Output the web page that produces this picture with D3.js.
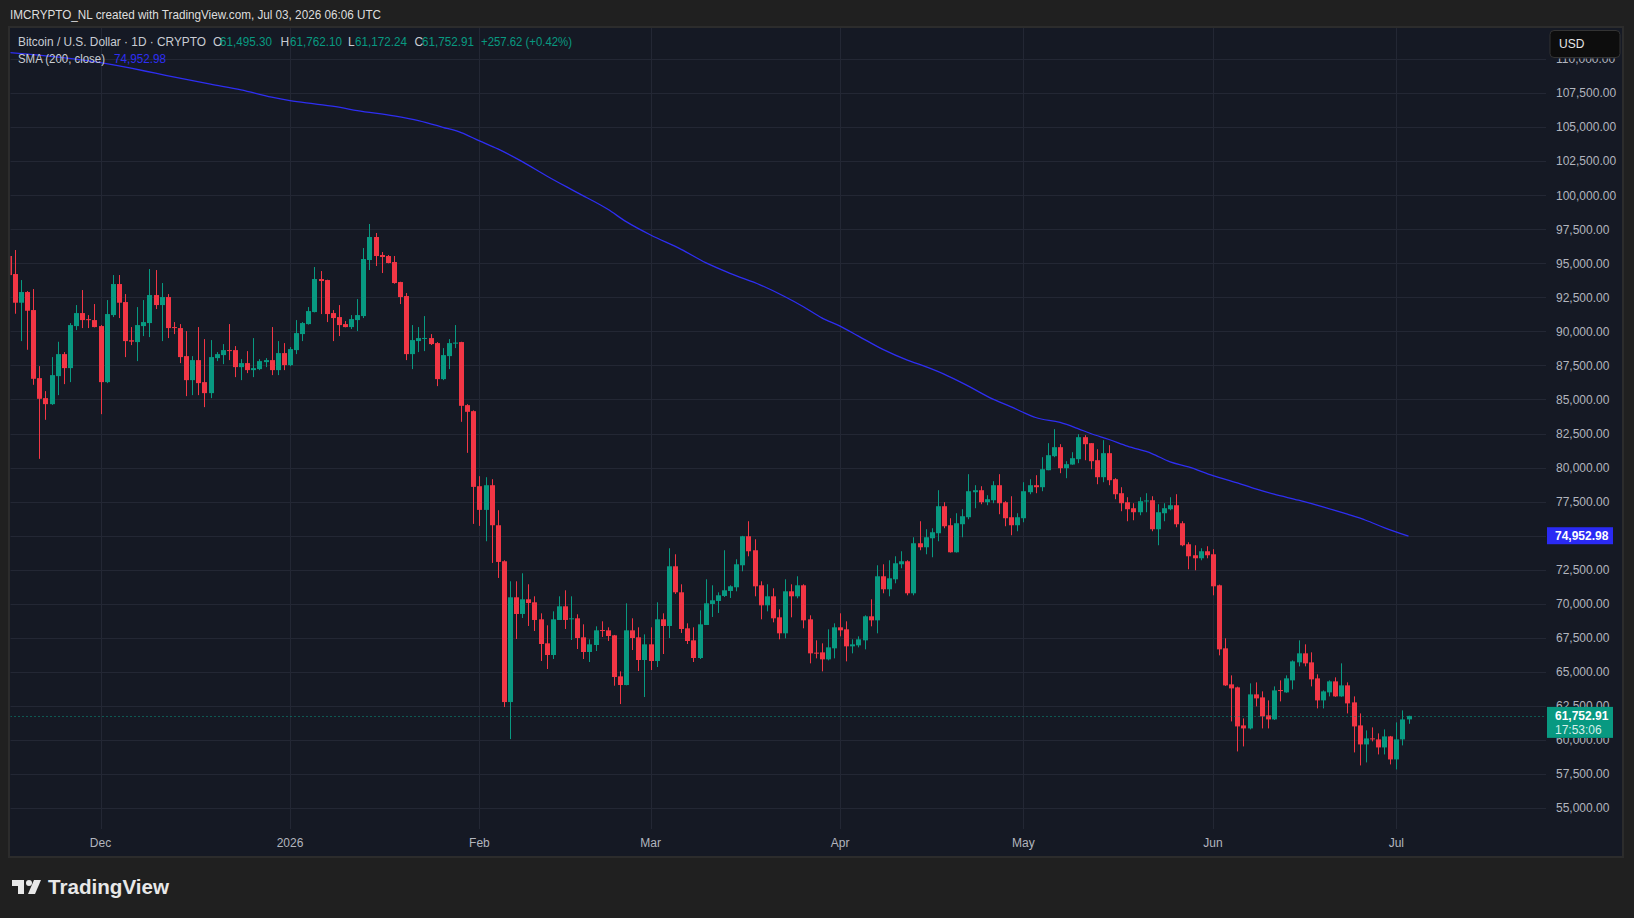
<!DOCTYPE html>
<html><head><meta charset="utf-8">
<script src="https://cdn.jsdelivr.net/npm/d3@7"></script>
<style>
html,body{margin:0;padding:0;background:#202020;}
svg{display:block;font-family:"Liberation Sans",Arial,sans-serif;}
</style></head><body>
<svg id="chart" width="1634" height="918"></svg>
<script>
// ---------------- DATA ----------------
const startDate = "2025-11-16"; // first daily candle
const opens = [95540,94216,92108,92892,91569,86568,85098,84657,86715,88333,
87304,90392,91348,90900,90833,90392,86274,91201,93480,92157,
89350,89216,90392,90613,92672,91936,92524,90319,90245,88186,
86421,87892,86274,85466,88039,88260,88627,88627,87377,87672,
87157,87230,87745,87892,87157,88407,87524,88627,89804,90539,
91422,93848,93774,91348,91054,90539,90319,90833,91127,95245,
96936,95613,95539,95098,93627,92598,88333,89290,89480,89510,
89142,86495,88186,89100,89216,84583,84142,78627,76887,78701,
75760,73113,62769,70466,69240,70319,70098,68848,67083,66225,
68799,69804,68870,68922,67524,66446,66961,68060,68039,67671,
64657,64020,68039,67524,65858,67010,65784,68848,68358,72745,
70833,68186,67304,66005,68431,69976,70196,70564,70931,71201,
72819,74951,73922,71348,69877,70539,68995,67819,70907,70539,
71348,68848,66400,66421,65907,66716,68260,68113,66863,66936,
67304,69069,68774,72010,71054,71789,72892,73113,70760,74436,
74142,74804,75172,77157,75760,73774,75833,76348,78186,78333,
77451,77598,78701,77451,76348,75760,76275,78186,78701,78554,
79804,80833,81495,79951,80221,80613,82230,81789,80539,79289,
81054,79142,78113,77451,77010,76716,77520,77598,75466,76642,
76936,77230,75907,74363,73554,73333,73848,73627,71348,66716,
64069,63848,61054,60833,63333,63112,61789,61495,63650,63480,
64363,65686,66348,65686,64510,62892,63480,64289,63186,63995,
62745,61054,59657,60100,60025,59436,60245,58554,60025,61495.30];
const highs = [95600,95980,93774,92966,93113,87451,85613,88113,89240,88480,
90613,91936,93039,91201,92010,90466,92304,94142,94142,92745,
90319,91789,92304,94583,94510,93554,92745,90686,90539,90024,
88186,90319,89436,89363,88480,89069,90539,88922,87966,88554,
89510,87966,88039,90319,89289,89142,88848,90833,90686,91789,
94730,94436,93800,91569,91936,90760,91201,92377,96127,97892,
97230,95833,95613,95539,93650,92819,90466,90319,91127,89804,
89216,88774,89436,90466,89240,84657,84200,79363,79289,79142,
76863,73186,71642,71642,72230,71421,70539,69289,68407,69436,
70539,70980,70539,69216,68480,67377,68333,68701,68260,67700,
65024,70024,68922,68260,67745,68260,70098,69289,74069,73627,
71421,68554,68260,69510,71789,71348,70833,73922,71348,73260,
74980,76054,74730,71642,71421,71127,69583,71789,71421,72010,
71421,69142,67304,67083,68113,68554,69289,68701,67377,67598,
69142,70319,72819,72892,73186,73480,73848,73186,74877,76054,
75466,75539,78333,77451,76275,76642,76936,79510,78701,78627,
77966,78995,79510,77525,77892,76642,78921,79142,79436,80760,
81789,82819,81716,80466,81127,82451,82377,81800,81348,82010,
81642,79216,78554,77819,77377,77819,78113,77892,77304,77377,
77819,78039,76054,74510,74289,74069,74216,74000,71400,67451,
64730,63900,61568,64142,64216,63554,62892,63921,64363,64730,
65833,67304,67010,66422,64804,63627,64363,64583,65613,64216,
63186,61936,60686,60907,60466,60760,60280,61274,62157,61762.10];
const lows = [93900,91299,89289,88652,86078,80637,83505,84600,85319,86127,
86274,90098,90245,90245,90300,83921,86200,91054,90980,88113,
88995,87819,89657,89583,91642,89289,89510,89804,87672,85245,
85319,85319,84436,85098,87819,87598,87892,86642,86421,86936,
86642,87157,87377,86789,86789,87157,87450,88333,89289,90500,
91400,91275,90686,89289,89657,90300,90172,90025,90980,94510,
94804,94289,95000,93500,92010,87892,87230,88480,88554,89000,
85980,86421,87230,88774,83358,81078,75858,75711,74583,72990,
71887,62402,60049,67402,68946,68358,67990,65784,65196,65931,
68799,68137,67328,66667,65931,65711,66519,67549,67255,63970,
62622,64000,66593,65049,63137,65122,65343,66299,67475,70711,
67843,67034,65711,65931,68431,69020,69314,70490,70417,70907,
72377,73480,70539,68848,69436,68627,67377,67451,68995,70392,
68186,65613,65980,65024,65833,65980,67598,65760,66348,66789,
66642,68333,67819,70760,70539,71495,72598,70613,70613,73922,
73627,73407,74583,75539,73750,73750,74877,76201,77010,77304,
77230,77377,76569,75686,75025,75319,75980,78039,78113,78260,
79800,80760,79583,79216,80200,80319,80539,79877,78774,78921,
78701,77672,76789,76054,76127,76495,76716,75319,74289,76054,
76860,75613,74216,72525,72451,73186,73333,70613,66201,63950,
61348,59142,59510,60760,62451,60833,60833,61450,62819,63450,
63701,65392,65392,63921,62304,62304,63186,63150,63150,61936,
59069,58113,58333,59878,58921,58921,58186,57819,59584,61172.24];
const closes = [94140,92108,92892,91520,86519,85049,84657,86789,88333,87304,
90466,91348,90833,90850,90319,86274,91275,93480,92108,89289,
89250,90466,90686,92672,91936,92524,90245,90245,88113,86421,
87892,86201,85466,88113,88333,88627,88554,87377,87672,87157,
87304,87819,87892,87157,88407,87524,88701,89877,90613,91495,
93848,93701,91275,90980,90466,90319,90907,91201,95319,96936,
95539,95466,95025,93554,92524,88333,89363,89510,89520,89069,
86495,88260,89142,89180,84534,84093,78578,76887,78701,75760,
73064,62769,70466,69240,70319,70049,68799,67034,66225,68848,
69804,68799,68920,67475,66446,67010,68039,68020,67622,64608,
64020,68039,67475,65858,67010,65784,68848,68358,72745,70833,
68137,67255,66005,68480,70024,70245,70613,70980,71274,72892,
74951,73848,71274,69877,70539,68922,67819,70907,70539,71348,
68774,66348,66350,65907,66789,68260,68039,66863,67010,67377,
69069,68774,72010,71054,71863,72966,73113,70760,74436,74142,
74877,75245,77157,75686,73774,75907,76422,78260,78333,77451,
77672,78701,77377,76275,75760,76348,78260,78701,78554,79877,
80907,81495,79951,80245,80686,82230,81716,80466,79289,81054,
79069,78039,77377,76936,76716,77525,77580,75466,76716,77010,
77230,75833,74289,73480,73333,73848,73554,71274,66642,63995,
63774,60980,60833,63333,63039,61716,61495,63627,63600,64510,
65760,66348,65613,64436,62892,63554,64289,63186,63995,62671,
60980,59657,60098,60050,59436,60245,58554,60025,61495,61752.91];

// SMA(200, close) read at sample dates
const smaDates = ["2025-11-16","2025-12-01","2025-12-06","2025-12-10","2025-12-19","2025-12-24","2025-12-29","2026-01-01","2026-01-05","2026-01-09",
"2026-01-12","2026-01-18","2026-01-22","2026-01-26","2026-01-29","2026-02-01","2026-02-04","2026-02-08","2026-02-12","2026-02-17",
"2026-02-22","2026-02-25","2026-03-01","2026-03-06","2026-03-10","2026-03-14","2026-03-19","2026-03-23","2026-03-26","2026-03-29",
"2026-04-01","2026-04-04","2026-04-08","2026-04-12","2026-04-14","2026-04-18","2026-04-22","2026-04-26","2026-04-29","2026-05-01",
"2026-05-03","2026-05-07","2026-05-10","2026-05-12","2026-05-15","2026-05-18","2026-05-22","2026-05-25","2026-05-28","2026-06-01",
"2026-06-05","2026-06-08","2026-06-11","2026-06-15","2026-06-19","2026-06-23","2026-06-26","2026-06-29","2026-07-03"];
const smaValues = [110490,109755,109338,108971,108162,107745,107206,106961,106716,106471,
106225,105833,105490,105000,104608,103995,103407,102475,101422,100196,
98971,98064,97083,96029,95049,94265,93407,92549,91814,91000,
90392,89657,88676,87892,87573,86863,85980,85025,84461,84044,
83676,83309,82843,82500,82059,81569,81029,80417,80049,79412,
78873,78431,78039,77598,77108,76569,76127,75588,74952.98];

const priceTicks = [55000,57500,60000,62500,65000,67500,70000,72500,75000,77500,80000,82500,85000,87500,90000,92500,95000,97500,100000,102500,105000,107500,110000];
const monthTickDates = ["2025-12-01","2026-01-01","2026-02-01","2026-03-01","2026-04-01","2026-05-01","2026-06-01","2026-07-01"];
const monthTickLabels = ["Dec","2026","Feb","Mar","Apr","May","Jun","Jul"];

const lastPrice = 61752.91;
const smaLast = 74952.98;
const countdown = "17:53:06";
const headerText = "IMCRYPTO_NL created with TradingView.com, Jul 03, 2026 06:06 UTC";
const symbolText = "Bitcoin / U.S. Dollar · 1D · CRYPTO";
const ohlcLabels = ["O","H","L","C"];
const ohlcValues = ["61,495.30","61,762.10","61,172.24","61,752.91"];
const changeText = "+257.62 (+0.42%)";
const smaLabel = "SMA (200, close)";

// ---------------- LAYOUT ----------------
const W = 1634, H = 918;
const plot = {left: 10.5, right: 1546, top: 28, bottom: 829};
const UP = "#089981", DOWN = "#f23645", SMA_C = "#2e2ef2";
const AXIS_TXT = "#b2b5be", GRID = "#232734", PANE = "#151924";

const parse = d3.utcParse("%Y-%m-%d");
const dates = d3.utcDay.range(parse(startDate), d3.utcDay.offset(parse(startDate), opens.length));
const candles = dates.map((d,i)=>({d, o:opens[i], h:highs[i], l:lows[i], c:closes[i]}));

const x = d3.scaleUtc().domain([parse("2025-12-01"), parse("2026-07-01")]).range([100.5, 1396.3]);
const y = d3.scaleLinear().domain([55000, 110000]).range([807.8, 59.2]);
const fmt = d3.format(",.2f");

const svg = d3.select("#chart");
svg.append("rect").attr("width",W).attr("height",H).attr("fill","#202020");
// pane
svg.append("rect").attr("x",9).attr("y",27).attr("width",1614).attr("height",830)
  .attr("fill",PANE).attr("stroke","#2c2c2c").attr("stroke-width",2);

// grid
const grid = svg.append("g");
grid.selectAll("line.h").data(priceTicks).join("line")
  .attr("x1",plot.left).attr("x2",plot.right)
  .attr("y1",d=>Math.round(y(d))+0.5).attr("y2",d=>Math.round(y(d))+0.5)
  .attr("stroke",GRID).attr("stroke-width",1);
grid.selectAll("line.v").data(monthTickDates.map(parse)).join("line")
  .attr("y1",plot.top).attr("y2",plot.bottom)
  .attr("x1",d=>Math.round(x(d))+0.5).attr("x2",d=>Math.round(x(d))+0.5)
  .attr("stroke",GRID).attr("stroke-width",1);

// time axis labels
svg.append("g").selectAll("text").data(monthTickDates).join("text")
  .attr("x",d=>x(parse(d))).attr("y",847)
  .attr("text-anchor","middle").attr("fill",AXIS_TXT).attr("font-size",12)
  .text((d,i)=>monthTickLabels[i]);

// price axis labels (the ones under the value boxes are clipped away like in TradingView)
svg.append("defs").append("clipPath").attr("id","axclip")
  .append("path").attr("d", (()=>{
    const py = y(lastPrice), sy = y(smaLast);
    return `M1546,58.5 H1634 V${sy-9} H1546 Z M1546,${sy+8} H1634 V${py-9} H1546 Z M1546,${py+22} H1634 V860 H1546 Z`;
  })());
svg.append("g").attr("clip-path","url(#axclip)").selectAll("text").data(priceTicks).join("text")
  .attr("x",1556).attr("y",d=>y(d)+4.2)
  .attr("fill",AXIS_TXT).attr("font-size",12)
  .text(d=>fmt(d));

// clip
svg.select("defs").append("clipPath").attr("id","clip")
  .append("rect").attr("x",plot.left).attr("y",plot.top)
  .attr("width",plot.right-plot.left).attr("height",plot.bottom-plot.top);
const g = svg.append("g").attr("clip-path","url(#clip)");

// candles
const cg = g.append("g");
const cs = cg.selectAll("g").data(candles).join("g");
cs.append("line")
  .attr("x1",d=>Math.round(x(d.d))+0.5).attr("x2",d=>Math.round(x(d.d))+0.5)
  .attr("y1",d=>y(d.h)).attr("y2",d=>y(d.l))
  .attr("stroke",d=>d.c>=d.o?UP:DOWN).attr("stroke-width",1);
cs.append("rect")
  .attr("x",d=>Math.round(x(d.d))-2).attr("width",5)
  .attr("y",d=>Math.min(y(d.o),y(d.c)))
  .attr("height",d=>Math.max(1,Math.abs(y(d.o)-y(d.c))))
  .attr("fill",d=>d.c>=d.o?UP:DOWN);

// SMA line
const smaPts = smaDates.map((d,i)=>({d:parse(d), v:smaValues[i]}));
g.append("path").datum(smaPts)
  .attr("d", d3.line().x(d=>x(d.d)).y(d=>y(d.v)).curve(d3.curveMonotoneX))
  .attr("fill","none").attr("stroke",SMA_C).attr("stroke-width",1.3);

// last price dotted line
g.append("line").attr("x1",plot.left).attr("x2",plot.right)
  .attr("y1",Math.round(y(lastPrice))+0.5).attr("y2",Math.round(y(lastPrice))+0.5)
  .attr("stroke",UP).attr("stroke-width",1).attr("stroke-dasharray","1 3");

// SMA value box
const sy = y(smaLast);
svg.append("rect").attr("x",1547).attr("y",sy-9).attr("width",66).attr("height",17).attr("fill","#2a2af4");
svg.append("text").attr("x",1555).attr("y",sy+4.2).attr("fill","#ffffff").attr("font-size",12).attr("font-weight","bold").text(fmt(smaLast));

// last price box
const py = y(lastPrice);
svg.append("rect").attr("x",1547).attr("y",py-9).attr("width",66).attr("height",31).attr("fill",UP);
svg.append("text").attr("x",1555).attr("y",py+4.2).attr("fill","#ffffff").attr("font-size",12).attr("font-weight","bold").text(fmt(lastPrice));
svg.append("text").attr("x",1555).attr("y",py+18).attr("fill","#d6efe9").attr("font-size",12).text(countdown);

// USD button
svg.append("rect").attr("x",1550).attr("y",30.5).attr("width",70).attr("height",27).attr("rx",4)
  .attr("fill","#0d0d0d").attr("stroke","#333333");
svg.append("text").attr("x",1559).attr("y",48).attr("fill","#e6e6e6").attr("font-size",12).text("USD");

// header
svg.append("text").attr("x",10).attr("y",19).attr("fill","#dedede").attr("font-size",13)
  .attr("textLength",371).attr("lengthAdjust","spacingAndGlyphs").text(headerText);

// legend row 1
const LEG = "#c9ccd3";
svg.append("text").attr("x",18).attr("y",46).attr("fill",LEG).attr("font-size",12)
  .attr("textLength",188).attr("lengthAdjust","spacingAndGlyphs").text(symbolText);
const lblX = [213, 280.5, 348, 414.5], valX = [220, 290, 355, 422];
ohlcLabels.forEach((l,i)=>{
  svg.append("text").attr("x",lblX[i]).attr("y",46).attr("fill",LEG).attr("font-size",12).text(l);
  svg.append("text").attr("x",valX[i]).attr("y",46).attr("fill",UP).attr("font-size",12)
    .attr("textLength",52).attr("lengthAdjust","spacingAndGlyphs").text(ohlcValues[i]);
});
svg.append("text").attr("x",481).attr("y",46).attr("fill",UP).attr("font-size",12)
  .attr("textLength",91).attr("lengthAdjust","spacingAndGlyphs").text(changeText);
// legend row 2
svg.append("text").attr("x",18).attr("y",62.5).attr("fill",LEG).attr("font-size",12)
  .attr("textLength",87).attr("lengthAdjust","spacingAndGlyphs").text(smaLabel);
svg.append("text").attr("x",114).attr("y",62.5).attr("fill",SMA_C).attr("font-size",12)
  .attr("textLength",52).attr("lengthAdjust","spacingAndGlyphs").text(fmt(smaLast));

// TradingView logo
const logo = svg.append("g").attr("fill","#e8e8e8");
logo.append("path").attr("d","M12,880 H24 V894 H18 V886 H12 Z");
logo.append("circle").attr("cx",29).attr("cy",883).attr("r",3);
logo.append("path").attr("d","M34,880 H41 L35,894 H28 Z");
svg.append("text").attr("x",48).attr("y",894).attr("fill","#e8e8e8").attr("font-size",20)
  .attr("font-weight","bold").attr("textLength",121).attr("lengthAdjust","spacingAndGlyphs").text("TradingView");
</script>
</body></html>
